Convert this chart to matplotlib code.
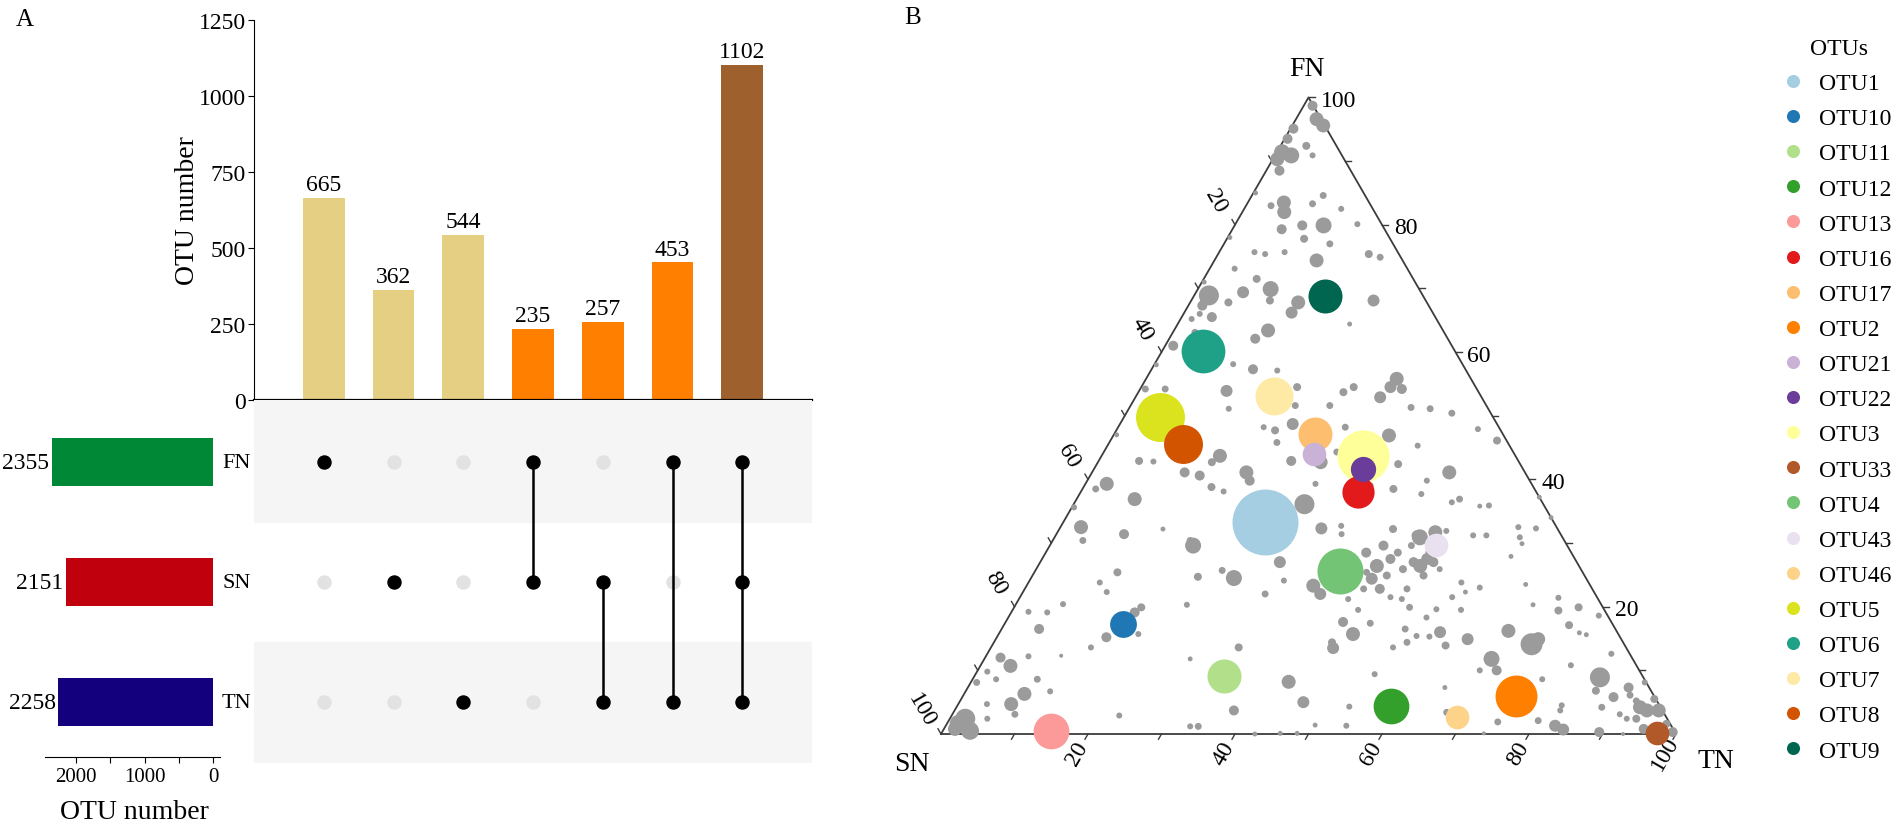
import numpy as np
import matplotlib
matplotlib.use("Agg")
import matplotlib.pyplot as plt
from matplotlib.lines import Line2D

plt.rcParams['font.family'] = ['Liberation Serif', 'DejaVu Serif']

W, H = 1902, 829

# ---------------------------- datos panel A ----------------------------
inter_counts = [665, 362, 544, 235, 257, 453, 1102]
inter_sets = [['FN'], ['SN'], ['TN'], ['FN', 'SN'], ['SN', 'TN'], ['FN', 'TN'], ['FN', 'SN', 'TN']]
inter_colors = ['#E5CF82', '#E5CF82', '#E5CF82', '#FF8000', '#FF8000', '#FF8000', '#9E602C']
set_names = ['FN', 'SN', 'TN']
set_sizes = [2355, 2151, 2258]
set_colors = ['#008837', '#C0000C', '#13007C']

# ---------------------------- datos panel B ----------------------------
# composicion (%) FN y TN; SN = 100 - FN - TN ; abundancia relativa
otu_names = ['OTU1', 'OTU10', 'OTU11', 'OTU12', 'OTU13', 'OTU16', 'OTU17', 'OTU2', 'OTU21', 'OTU22',
             'OTU3', 'OTU33', 'OTU4', 'OTU43', 'OTU46', 'OTU5', 'OTU6', 'OTU7', 'OTU8', 'OTU9']
otu_fn = [33.3, 17.3, 9.1, 4.4, 0.5, 38.0, 47.1, 6.0, 44.0, 41.6,
          43.7, 0.2, 25.6, 29.7, 2.7, 49.8, 60.2, 53.1, 45.6, 68.8]
otu_tn = [27.4, 16.1, 34.0, 59.0, 14.7, 37.7, 27.3, 75.2, 28.7, 36.6,
          35.6, 97.3, 41.5, 52.5, 68.9, 4.9, 5.6, 18.8, 10.1, 17.9]
otu_abund = [109, 18, 29, 32, 32, 26, 29, 44, 14, 16,
             68, 14, 53, 14, 14, 60, 48, 36, 38, 29]
otu_colors = ['#A6CEE3', '#1F78B4', '#B2DF8A', '#33A02C', '#FB9A99', '#E31A1C', '#FDBF6F', '#FF7F00',
              '#CAB2D6', '#6A3D9A', '#FFFF99', '#B15928', '#74C476', '#E9E0F0', '#FDD38A', '#DBE31E',
              '#1FA187', '#FEE9A5', '#D35400', '#00664F']

# OTUs restantes (gris), zona central
fn_centro = [68.1, 67.8, 68.1, 66.2, 67.8, 68.1, 66.0, 65.5, 65.2, 63.4,
             62.1, 61.0, 64.4, 58.1, 57.3, 57.1, 55.8, 54.5, 54.2, 52.9,
             54.5, 53.7, 53.9, 54.5, 51.6, 51.6, 51.3, 51.1, 50.4, 51.1,
             54.2, 48.7, 47.7, 48.2, 45.8, 48.2, 46.9, 47.9, 46.1, 45.3,
             44.3, 43.7, 42.7, 42.8, 41.1, 40.6, 42.9, 42.7, 41.1, 39.8,
             39.3, 42.4, 39.0, 38.5, 41.1, 39.8, 37.7, 38.8, 38.1, 36.1,
             36.4, 36.9, 35.8, 35.9, 32.2, 32.3, 32.7, 31.4, 32.2, 30.9,
             31.7, 31.9, 31.2, 31.2, 32.5, 32.3, 30.9, 29.9, 29.6, 30.4,
             27.0, 25.7, 24.5, 24.7, 24.1, 22.0, 20.3, 28.5, 26.4, 24.4,
             29.6, 27.5, 24.9, 22.8, 25.4, 28.5, 25.9, 22.8, 27.0, 26.4,
             27.5, 27.0, 24.9, 28.5, 25.9, 29.6, 31.2, 23.3, 22.0, 21.2,
             19.5, 22.8, 21.5, 21.2, 19.9, 18.3, 19.6, 21.5, 23.8, 22.3,
             19.5, 23.0, 23.5, 20.3, 27.9, 17.6, 17.4, 15.7, 14.4, 13.5,
             16.5, 14.4, 13.6, 15.4, 16.0, 13.9, 15.3, 14.9, 16.2, 14.1,
             14.9, 11.8, 10.0, 10.0, 13.6, 11.8, 8.2, 5.0, 3.7, 4.3,
             9.4, 7.3, 3.4, 1.9, 2.1, 1.2, 1.2, 1.4, 1.3, 0.0,
             0.1, 0.1, 0.1]
tn_centro = [1.9, 5.2, 10.7, 14.6, 14.7, 24.8, 2.2, 4.1, 1.5, 12.8,
             11.7, 1.1, 23.4, 10.7, 13.8, 17.2, 34.1, 33.9, 35.6, 33.3,
             28.9, 27.9, 11.9, 21.2, 22.4, 27.1, 38.3, 41.0, 44.3, 13.6,
             3.4, 23.5, 21.6, 19.8, 22.8, 30.9, 37.5, 49.1, 52.6, 42.2,
             31.7, 16.1, 15.5, 7.5, 12.6, 14.9, 26.2, 30.3, 21.0, 22.1,
             31.3, 41.0, 38.9, 42.3, 48.6, 46.2, 46.5, 17.4, 19.4, 31.4,
             51.3, 52.1, 55.4, 56.6, 14.1, 35.6, 38.1, 38.8, 45.4, 49.7,
             51.4, 52.8, 56.8, 58.6, 62.3, 64.8, 63.3, 64.1, 19.5, 18.7,
             32.6, 25.4, 27.6, 22.6, 34.6, 33.1, 23.3, 43.6, 46.1, 46.4,
             45.4, 47.4, 48.2, 48.3, 45.2, 47.9, 49.9, 52.0, 50.8, 52.0,
             52.4, 53.5, 53.2, 52.2, 54.9, 49.2, 49.1, 39.0, 40.6, 44.8,
             47.0, 46.1, 50.4, 52.1, 53.8, 56.9, 57.6, 58.8, 58.9, 60.2,
             61.0, 61.8, 67.8, 70.4, 63.6, 45.9, 49.7, 48.2, 46.0, 46.6,
             54.9, 56.2, 54.7, 57.0, 59.9, 61.7, 58.8, 64.2, 69.1, 73.3,
             73.8, 69.0, 70.6, 68.3, 33.7, 28.0, 43.2, 46.8, 38.0, 53.4,
             54.3, 64.9, 67.1, 74.8, 80.2, 33.3, 34.4, 50.2, 54.5, 42.7,
             46.1, 48.4, 73.8]
ab_centro = [2.5, 1.6, 1.6, 3.6, 4.9, 3.6, 0.9, 2.5, 0.9, 4.9,
             2.5, 2.5, 0.6, 0.9, 2.5, 0.9, 4.9, 3.6, 2.5, 3.6,
             1.6, 1.6, 3.6, 1.6, 1.2, 1.2, 1.2, 1.2, 1.2, 0.9,
             1.2, 3.6, 1.6, 0.9, 1.2, 1.2, 4.9, 0.9, 1.6, 0.9,
             1.2, 4.9, 1.6, 0.9, 2.5, 2.5, 2.5, 4.9, 4.9, 2.5,
             0.9, 1.6, 1.2, 1.6, 4.9, 0.9, 0.9, 1.6, 0.9, 10,
             0.9, 1.2, 0.6, 0.9, 0.6, 3.6, 0.9, 0.9, 1.6, 6.4,
             4.9, 0.9, 0.9, 0.9, 0.9, 0.9, 0.9, 0.6, 6.4, 1.2,
             3.6, 1.2, 6.4, 1.6, 0.9, 1.2, 0.9, 2.5, 4.9, 3.6,
             2.5, 2.5, 1.6, 2.5, 1.2, 1.6, 1.6, 1.2, 2.5, 4.9,
             3.6, 2.5, 1.6, 1.6, 0.9, 1.2, 2.5, 4.9, 3.6, 0.9,
             0.9, 1.2, 0.9, 0.9, 1.2, 0.9, 0.9, 0.9, 0.9, 0.6,
             0.9, 0.9, 0.6, 0.6, 0.6, 2.5, 1.2, 4.9, 1.6, 3.6,
             1.2, 1.2, 0.9, 0.9, 3.6, 1.6, 0.9, 3.6, 4.9, 12.1,
             4.9, 6.4, 2.5, 0.9, 1.6, 0.6, 4.9, 3.6, 2.5, 0.9,
             0.9, 0.6, 1.2, 1.2, 1.2, 0.9, 1.2, 0.6, 0.9, 0.6,
             0.6, 0.6, 0.4]

# zona alta (cerca de FN)
fn_alto = [98.7, 96.6, 95.6, 95.1, 93.5, 92.4, 91.4, 90.9, 90.3, 88.5,
           90.9, 83.0, 83.5, 82.0, 83.3, 84.6, 82.5, 79.9, 79.9, 77.8,
           79.3, 75.7, 75.4, 75.7, 77.0, 74.4, 75.4, 74.9, 80.1, 73.1,
           71.5, 69.4, 69.9, 68.9, 67.3, 63.1, 54.2, 85.0, 78.0, 71.0,
           58.0, 47.0]
tn_alto = [1.2, 2.8, 4.2, 0.4, 0.4, 3.5, 0.7, 2.2, 0.6, 1.8,
           5.1, 3.4, 4.9, 5.7, 8.9, 9.7, 13.2, 9.2, 12.1, 10.5,
           6.7, 4.8, 6.4, 8.9, 14.4, 13.9, 20.5, 22.3, 16.6, 3.4,
           7.2, 6.4, 9.9, 2.0, 1.9, 3.0, 0.7, 0.3, 0.3, 0.3,
           0.3, 0.4]
ab_alto = [2.5, 4.9, 4.9, 2.5, 2.5, 1.6, 6.4, 6.4, 4.9, 2.5,
           0.9, 1.2, 4.9, 4.9, 1.2, 1.2, 0.9, 2.5, 6.4, 1.6,
           2.5, 0.9, 0.9, 0.9, 1.2, 4.9, 1.6, 1.2, 0.9, 0.9,
           1.6, 3.6, 6.4, 10, 2.5, 1.2, 1.2, 0.6, 0.6, 0.6,
           0.6, 0.6]

# zona izquierda (cerca de SN)
fn_izq = [42.9, 39.3, 38.5, 36.9, 32.5, 35.6, 31.4, 30.4, 25.4, 23.8,
          22.3, 19.9, 19.1, 20.4, 19.1, 19.2, 16.5, 15.2, 15.7, 13.6,
          12.3, 12.2, 12.0, 10.7, 9.8, 8.1, 8.6, 8.6, 6.3, 4.7,
          4.7, 2.4, 3.1, 6.7, 2.9, 2.4, 1.6, 0.5, 0.8]
tn_izq = [5.5, 2.9, 1.8, 7.9, 2.8, 0.3, 9.2, 4.1, 11.3, 9.7,
          11.4, 17.3, 16.8, 6.4, 4.9, 2.3, 5.1, 14.9, 19.0, 13.6,
          10.2, 5.8, 2.1, 4.1, 1.4, 0.8, 3.2, 8.8, 8.2, 7.2,
          3.9, 5.1, 8.5, 11.5, 22.8, 2.1, 1.6, 3.7, 1.5]
ab_izq = [1.6, 4.9, 1.2, 4.9, 4.9, 0.9, 2.5, 1.2, 1.6, 0.9,
          0.9, 1.6, 2.5, 0.9, 0.9, 0.9, 2.5, 2.5, 0.9, 0.9,
          0.4, 0.9, 2.5, 4.9, 0.9, 1.2, 0.9, 1.2, 4.9, 4.9,
          0.9, 0.9, 1.2, 0.9, 0.9, 10, 8.1, 8.1, 4.9]

# zona derecha (cerca de TN)
fn_der = [21.4, 19.4, 19.9, 18.6, 17.1, 15.9, 15.6, 12.6, 10.8, 8.6,
          8.9, 6.8, 5.8, 7.3, 6.1, 8.1, 4.2, 3.7, 3.7, 2.4,
          3.1, 2.4, 4.2, 0.8, 0.3, 1.6, 0.3, 0.7, 1.3, 4.5,
          3.7, 0.0, 5.5, 5.2, 37.2, 34.0]
tn_der = [73.3, 74.3, 76.8, 80.2, 76.9, 78.9, 80.0, 84.9, 80.3, 77.5,
          85.2, 85.7, 88.6, 89.9, 90.7, 91.7, 93.0, 94.2, 95.8, 93.4,
          90.8, 92.1, 87.8, 95.2, 99.4, 97.9, 89.4, 84.3, 82.9, 82.2,
          82.4, 92.8, 94.3, 92.0, 62.8, 66.0]
ab_der = [0.9, 1.6, 1.6, 0.9, 1.6, 0.6, 0.6, 0.9, 0.9, 0.9,
          10, 1.6, 2.5, 2.5, 1.2, 0.9, 4.9, 4.9, 4.9, 1.6,
          0.9, 0.9, 1.2, 2.5, 2.5, 1.6, 2.5, 3.6, 3.6, 0.9,
          0.9, 0.4, 1.6, 1.2, 0.6, 0.6]

grey_fn = np.array(fn_centro + fn_alto + fn_izq + fn_der)
grey_tn = np.array(tn_centro + tn_alto + tn_izq + tn_der)
grey_ab = np.array(ab_centro + ab_alto + ab_izq + ab_der)


#-------------------------------------FUNCIONES--------------------------------------------
def ejes_px(fig, x0, y0, x1, y1):
    # ejes ubicados en pixeles (origen arriba a la izquierda)
    return fig.add_axes([x0 / W, 1 - y1 / H, (x1 - x0) / W, (y1 - y0) / H])


def a_ternario(fn, tn):
    fn = np.asarray(fn) / 100.0
    tn = np.asarray(tn) / 100.0
    return tn + fn / 2, fn * np.sqrt(3) / 2


fig = plt.figure(figsize=(W / 100, H / 100), dpi=100)

# ================================
#  Barras de intersecciones
ax_bar = ejes_px(fig, 254, 21, 812, 401)
pos = np.arange(1, len(inter_counts) + 1)
bars = ax_bar.bar(pos, inter_counts, width=0.6, color=inter_colors)
for bar in bars:
    yval = bar.get_height()
    ax_bar.annotate(str(int(yval)), (bar.get_x() + bar.get_width() / 2, yval),
                    xytext=(0, 2), textcoords='offset points',
                    ha='center', va='bottom', fontsize=17, annotation_clip=False)
ax_bar.set_xlim(0, 8)
ax_bar.set_ylim(0, 1250)
ax_bar.set_yticks([0, 250, 500, 750, 1000, 1250])
ax_bar.set_xticks([])
ax_bar.spines['top'].set_visible(False)
ax_bar.spines['right'].set_visible(False)
ax_bar.spines['bottom'].set_linewidth(1.6)
ax_bar.spines['left'].set_linewidth(0.8)
ax_bar.tick_params(axis='y', labelsize=17, length=4, width=0.8, pad=2)
ax_bar.set_ylabel('OTU number', fontsize=20)
ax_bar.yaxis.set_label_coords(-0.097, 0.5)

# ================================
#  Matriz de combinaciones
ax_mat = ejes_px(fig, 254, 401, 812, 764)
ax_mat.set_xlim(0, 8)
ax_mat.set_ylim(2.508, -0.517)
ax_mat.axhspan(-0.6, 0.5, color='#F5F5F5', zorder=0)
ax_mat.axhspan(1.5, 2.6, color='#F5F5F5', zorder=0)
for j, sets in enumerate(inter_sets):
    filas = [set_names.index(s) for s in sets]
    inactivas = [i for i in range(len(set_names)) if i not in filas]
    ax_mat.plot([pos[j]] * len(inactivas), inactivas, 'o', color='#E2E2E2', ms=9.4, zorder=2)
    if len(filas) > 1:
        ax_mat.plot([pos[j], pos[j]], [min(filas), max(filas)], color='black', lw=1.8, zorder=3)
    ax_mat.plot([pos[j]] * len(filas), filas, 'o', color='black', ms=9.4, zorder=4)
ax_mat.axis('off')

# ================================
#  Tamanio de cada grupo
ax_set = ejes_px(fig, 45, 401, 220, 758)
ax_set.barh(range(len(set_sizes)), set_sizes, height=0.4, color=set_colors)
ax_set.set_xlim(2453, -102)
ax_set.set_ylim(2.458, -0.517)
for i, v in enumerate(set_sizes):
    ax_set.annotate(str(v), (v, i), xytext=(-2, 0), textcoords='offset points',
                    ha='right', va='center', fontsize=17, annotation_clip=False)
    ax_set.annotate(set_names[i], (0, i), xytext=(6.5, 0), textcoords='offset points',
                    ha='left', va='center', fontsize=16, annotation_clip=False)
for s in ['top', 'right', 'left']:
    ax_set.spines[s].set_visible(False)
ax_set.spines['bottom'].set_linewidth(0.8)
ax_set.set_yticks([])
ax_set.set_xticks([2000, 1500, 1000, 500, 0])
ax_set.set_xticklabels(['2000', '', '1000', '', '0'])
ax_set.tick_params(axis='x', labelsize=15, length=4, width=0.8)
ax_set.set_xlabel('OTU number', fontsize=20)
ax_set.xaxis.set_label_coords(0.51, -0.118)

fig.text(25 / W, 1 - 20 / H, 'A', fontsize=18, ha='center', va='center')
fig.text(913 / W, 1 - 18 / H, 'B', fontsize=18, ha='center', va='center')

# ================================
#  Diagrama ternario
ax_t = ejes_px(fig, 860, 30, 1760, 800)
ax_t.set_xlim(-81 / 735, 819 / 735)
ax_t.set_ylim(-65 / 735, 705 / 735)
ax_t.axis('off')
hh = np.sqrt(3) / 2
u = 1 / 735  # un pixel en unidades del triangulo

ax_t.plot([0, 1, 0.5, 0], [0, 0, hh, 0], color='#3C3C3C', lw=1.3, zorder=1, clip_on=False)

L = 6 * u
for v in range(10, 101, 10):
    f = v / 100
    # eje TN (abajo)
    ax_t.plot([f, f - 0.5 * L], [0, -hh * L], color='#3C3C3C', lw=1.0, clip_on=False)
    # eje FN (derecha)
    xr, yr = 1 - f / 2, f * hh
    ax_t.plot([xr, xr + L], [yr, yr], color='#3C3C3C', lw=1.0, clip_on=False)
    # eje SN (izquierda)
    xl, yl = (1 - f) / 2, (1 - f) * hh
    ax_t.plot([xl, xl - 0.5 * L], [yl, yl + hh * L], color='#3C3C3C', lw=1.0, clip_on=False)
    if v % 20 == 0:
        ax_t.text(f - 11 * u, -19 * u, str(v), rotation=60, ha='center', va='center', fontsize=17)
        ax_t.text(xr + 12 * u, yr - 3 * u, str(v), ha='left', va='center', fontsize=17)
        ax_t.text(xl - 19 * u, yl + 24 * u, str(v), rotation=-60, ha='center', va='center', fontsize=17)

ax_t.text(0.5 - 2 * u, hh + 29 * u, 'FN', ha='center', va='center', fontsize=20)
ax_t.text(-29 * u, -30 * u, 'SN', ha='center', va='center', fontsize=20)
ax_t.text(1 + 40 * u, -27 * u, 'TN', ha='center', va='center', fontsize=20)

gx, gy = a_ternario(grey_fn, grey_tn)
ax_t.scatter(gx, gy, s=grey_ab * 20.7, color='#9B9B9B', linewidths=0, zorder=2, clip_on=False)

orden = np.argsort(otu_abund)[::-1]
ox, oy = a_ternario(otu_fn, otu_tn)
for k in orden:
    ax_t.scatter(ox[k], oy[k], s=otu_abund[k] * 20.7, color=otu_colors[k],
                 linewidths=0, zorder=3, clip_on=False)

handles = [Line2D([], [], ls='none', marker='o', ms=9.4, mfc=c, mec='none') for c in otu_colors]
fig.legend(handles, otu_names, title='OTUs', loc='upper left',
           bbox_to_anchor=(1786 / W, 1 - 39 / H), frameon=False, fontsize=17,
           title_fontsize=17, handlelength=0.6, handletextpad=0.8,
           labelspacing=0.576, borderpad=0, borderaxespad=0)

fig.savefig('out.png', dpi=100)
